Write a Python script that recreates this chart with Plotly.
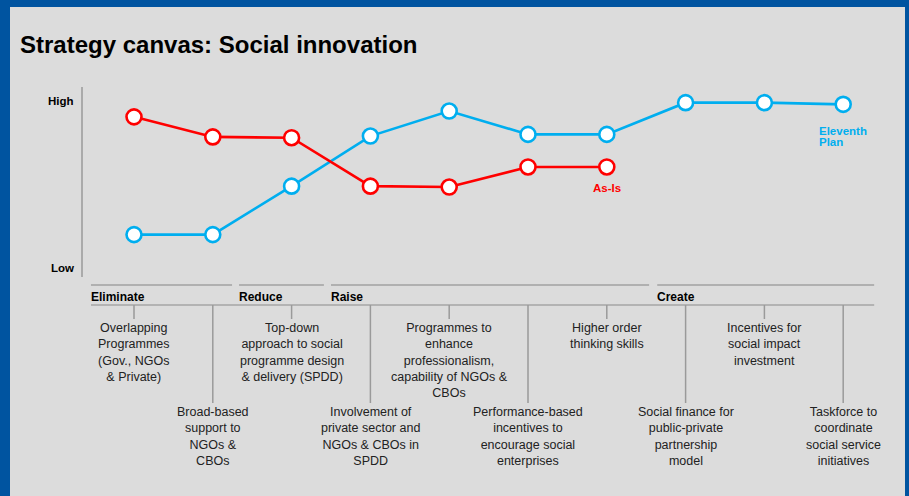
import plotly.graph_objects as go

# Facteurs du canevas stratégique (ordre de gauche à droite)
factors = [
    "Overlapping<br>Programmes<br>(Gov., NGOs<br>& Private)",
    "Broad-based<br>support to<br>NGOs &<br>CBOs",
    "Top-down<br>approach to social<br>programme design<br>& delivery (SPDD)",
    "Involvement of<br>private sector and<br>NGOs & CBOs in<br>SPDD",
    "Programmes to<br>enhance<br>professionalism,<br>capability of NGOs &<br>CBOs",
    "Performance-based<br>incentives to<br>encourage social<br>enterprises",
    "Higher order<br>thinking skills",
    "Social finance for<br>public-private<br>partnership<br>model",
    "Incentives for<br>social impact<br>investment",
    "Taskforce to<br>coordinate<br>social service<br>initiatives",
]

# Niveaux (0 = Low, 10 = High)
as_is = [9.05, 7.85, 7.8, 4.9, 4.85, 6.05, 6.05]
eleventh_plan = [2.0, 2.0, 4.9, 7.9, 9.4, 8.0, 8.0, 9.9, 9.9, 9.8]

# Groupes ERRC
groups = ["Eliminate", "Reduce", "Raise", "Create"]

W, H = 909, 496
RED = "#ff0000"
BLUE = "#00aeef"
GREY_BG = "#dcdcdc"
BORDER = "#0054a0"
TXT = "#222222"

# Echelle : facteur 0 -> 134 px, pas de 78.8 px ; valeur 0 -> 268 px, 10 -> 101 px
X0, DX = 134, 78.8
Y0, DY = 268, 16.7


def xd(px):
    return (px - X0) / DX


def yd(py):
    return (Y0 - py) / DY


def xp(px):
    return px / W


def yp(py):
    return 1 - py / H


fig = go.Figure()

fig.add_trace(go.Scatter(
    x=list(range(len(eleventh_plan))), y=eleventh_plan, mode="lines+markers",
    line=dict(color=BLUE, width=2.6),
    marker=dict(size=15, color="white", line=dict(color=BLUE, width=2.6)),
    name="Eleventh Plan", hoverinfo="skip"))

fig.add_trace(go.Scatter(
    x=list(range(len(as_is))), y=as_is, mode="lines+markers",
    line=dict(color=RED, width=2.6),
    marker=dict(size=15, color="white", line=dict(color=RED, width=2.6)),
    name="As-Is", hoverinfo="skip"))

shapes = []
annotations = []

# Cadre bleu
shapes.append(dict(type="rect", xref="paper", yref="paper", x0=0, x1=1, y0=yp(7), y1=1,
                   fillcolor=BORDER, line_width=0))
shapes.append(dict(type="rect", xref="paper", yref="paper", x0=0, x1=xp(10), y0=0, y1=1,
                   fillcolor=BORDER, line_width=0))
shapes.append(dict(type="rect", xref="paper", yref="paper", x0=xp(905), x1=1, y0=0, y1=1,
                   fillcolor=BORDER, line_width=0))

# Titre
annotations.append(dict(text="<b>Strategy canvas: Social innovation</b>", xref="paper", yref="paper",
                        x=xp(20), y=yp(45), xanchor="left", yanchor="middle", showarrow=False,
                        xshift=-2, font=dict(size=24, color="black", family="Liberation Sans, Arial")))

# Axe vertical High / Low
shapes.append(dict(type="line", xref="paper", yref="paper", x0=xp(82), x1=xp(82), y0=yp(87), y1=yp(277),
                   line=dict(color="#9a9a9a", width=1.5)))
for lab, py in [("High", 101), ("Low", 268)]:
    annotations.append(dict(text="<b>" + lab + "</b>", xref="paper", yref="paper", x=xp(76), y=yp(py),
                            xanchor="right", yanchor="middle", showarrow=False,
                            font=dict(size=11.5, color="black")))

# Etiquettes des courbes
annotations.append(dict(text="<b>As-Is</b>", x=len(as_is) - 1, y=yd(188), xanchor="center", yanchor="middle",
                        showarrow=False, font=dict(size=11.5, color=RED)))
for lab, py in [("Eleventh", 131), ("Plan", 142)]:
    annotations.append(dict(text="<b>" + lab + "</b>", x=xd(819), y=yd(py), xanchor="left", yanchor="middle",
                            showarrow=False, xshift=-2, font=dict(size=11.5, color=BLUE)))

# En-têtes de groupes
seg_start = [-0.546, 1.333, 2.5, 6.64]
seg_end = [1.244, 2.41, 6.537, 9.393]
for g, s, e in zip(groups, seg_start, seg_end):
    shapes.append(dict(type="line", x0=s, x1=e, y0=yd(285), y1=yd(285),
                       line=dict(color="#b0b0b0", width=2)))
    annotations.append(dict(text="<b>" + g + "</b>", x=s, y=yd(297), xanchor="left", yanchor="middle",
                            showarrow=False, xshift=-2, font=dict(size=12, color="black")))
shapes.append(dict(type="line", x0=seg_start[0], x1=seg_end[-1], y0=yd(305), y1=yd(305),
                   line=dict(color="#8a8a8a", width=1.2)))

# Facteurs : textes en haut (pairs) et en bas (impairs)
for i, f in enumerate(factors):
    if i % 2 == 0:
        tick_end, text_top = 319, 319
    else:
        tick_end, text_top = 403, 403
    shapes.append(dict(type="line", x0=i, x1=i, y0=yd(305), y1=yd(tick_end),
                       line=dict(color="#9a9a9a", width=1.5)))
    annotations.append(dict(text=f, x=i, y=yd(text_top), xanchor="center", yanchor="top",
                            showarrow=False, align="center", font=dict(size=12.5, color=TXT)))

fig.update_layout(
    width=W, height=H,
    margin=dict(l=0, r=0, t=0, b=0),
    paper_bgcolor=GREY_BG, plot_bgcolor=GREY_BG,
    font=dict(family="Liberation Sans, Arial, sans-serif"),
    showlegend=False,
    xaxis=dict(range=[xd(0), xd(W)], visible=False, fixedrange=True),
    yaxis=dict(range=[yd(H), yd(0)], visible=False, fixedrange=True),
    shapes=shapes, annotations=annotations,
    hovermode=False,
)

# la page a une marge de 8 px par défaut : on la retire
fig.write_html("out.html", config={"displayModeBar": False},
               post_script="document.body.style.margin='0';")
